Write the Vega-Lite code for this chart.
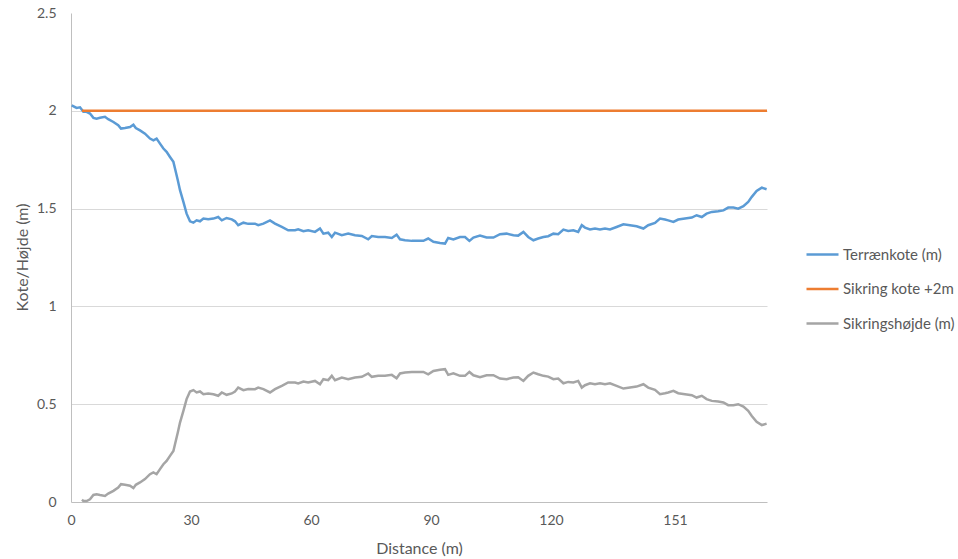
{
  "$schema": "https://vega.github.io/schema/vega-lite/v6.json",
  "width": 696,
  "height": 489,
  "autosize": {"type": "none"},
  "padding": {"left": 71, "top": 13, "right": 191, "bottom": 57},
  "background": "white",
  "config": {
    "view": {"stroke": null},
    "font": "Lato",
    "axis": {"labelFont": "Lato", "titleFont": "Lato", "labelColor": "#595959", "titleColor": "#595959", "labelFontSize": 14, "titleFontSize": 16, "titleFontWeight": "normal", "ticks": false, "tickSize": 0, "domainColor": "#BFBFBF", "gridColor": "#D9D9D9", "labelFlush": false},
    "legend": {"labelFont": "Lato", "labelColor": "#595959", "labelFontSize": 15, "labelLimit": 200}
  },
  "datasets": {
    "terr": [
      {"d":0.17,"v":2.028},{"d":1.4,"v":2.015},{"d":2.25,"v":2.018},{"d":3.1,"v":1.995},{"d":3.9,"v":1.995},{"d":4.75,"v":1.986},{"d":5.6,"v":1.964},{"d":6.4,"v":1.96},{"d":7.25,"v":1.964},{"d":8.5,"v":1.969},{"d":9.3,"v":1.957},{"d":10.6,"v":1.943},{"d":11.8,"v":1.926},{"d":12.5,"v":1.909},{"d":13.5,"v":1.912},{"d":14.75,"v":1.917},{"d":15.6,"v":1.929},{"d":16.2,"v":1.912},{"d":17.25,"v":1.9},{"d":18.5,"v":1.883},{"d":19.75,"v":1.858},{"d":20.6,"v":1.849},{"d":21.4,"v":1.858},{"d":22.25,"v":1.832},{"d":23.1,"v":1.807},{"d":23.9,"v":1.79},{"d":24.75,"v":1.764},{"d":25.6,"v":1.739},{"d":26,"v":1.705},{"d":26.7,"v":1.645},{"d":27.25,"v":1.594},{"d":28.1,"v":1.534},{"d":28.9,"v":1.474},{"d":29.75,"v":1.435},{"d":30.6,"v":1.428},{"d":31.4,"v":1.44},{"d":32.25,"v":1.435},{"d":33.1,"v":1.449},{"d":34.3,"v":1.445},{"d":35.6,"v":1.449},{"d":36.8,"v":1.457},{"d":37.7,"v":1.44},{"d":38.9,"v":1.452},{"d":40.2,"v":1.445},{"d":41,"v":1.435},{"d":41.8,"v":1.415},{"d":43.1,"v":1.428},{"d":44.3,"v":1.422},{"d":46,"v":1.423},{"d":46.8,"v":1.415},{"d":48.1,"v":1.423},{"d":49.75,"v":1.44},{"d":51,"v":1.423},{"d":52.7,"v":1.406},{"d":54.3,"v":1.389},{"d":56,"v":1.389},{"d":56.8,"v":1.394},{"d":58.1,"v":1.384},{"d":59.3,"v":1.389},{"d":61,"v":1.381},{"d":62.25,"v":1.398},{"d":63.1,"v":1.372},{"d":64.3,"v":1.377},{"d":65.2,"v":1.355},{"d":66,"v":1.377},{"d":67.7,"v":1.364},{"d":69.3,"v":1.372},{"d":71,"v":1.364},{"d":72.7,"v":1.36},{"d":74.3,"v":1.343},{"d":75.2,"v":1.36},{"d":76.8,"v":1.355},{"d":78.5,"v":1.355},{"d":80.2,"v":1.35},{"d":81.4,"v":1.367},{"d":82.25,"v":1.343},{"d":83.5,"v":1.338},{"d":85.2,"v":1.335},{"d":86.4,"v":1.335},{"d":88.1,"v":1.335},{"d":89.3,"v":1.347},{"d":90.6,"v":1.33},{"d":92.25,"v":1.324},{"d":93.5,"v":1.321},{"d":94.3,"v":1.35},{"d":95.6,"v":1.342},{"d":97.25,"v":1.355},{"d":98.5,"v":1.355},{"d":99.6,"v":1.335},{"d":100.6,"v":1.352},{"d":102.25,"v":1.362},{"d":103.9,"v":1.352},{"d":105.6,"v":1.352},{"d":107.25,"v":1.369},{"d":108.9,"v":1.372},{"d":110.6,"v":1.364},{"d":111.8,"v":1.362},{"d":113.1,"v":1.381},{"d":114.3,"v":1.355},{"d":115.6,"v":1.338},{"d":116.8,"v":1.347},{"d":118.1,"v":1.355},{"d":119.3,"v":1.359},{"d":120.6,"v":1.372},{"d":121.8,"v":1.369},{"d":123.1,"v":1.393},{"d":124.3,"v":1.386},{"d":125.6,"v":1.389},{"d":126.8,"v":1.381},{"d":127.7,"v":1.415},{"d":128.5,"v":1.403},{"d":129.75,"v":1.393},{"d":131,"v":1.398},{"d":132.25,"v":1.393},{"d":133.5,"v":1.398},{"d":134.75,"v":1.393},{"d":136.4,"v":1.406},{"d":138.1,"v":1.42},{"d":139.75,"v":1.415},{"d":141.4,"v":1.41},{"d":143.1,"v":1.398},{"d":144.3,"v":1.415},{"d":146,"v":1.427},{"d":147.25,"v":1.449},{"d":148.5,"v":1.444},{"d":149.3,"v":1.44},{"d":150.6,"v":1.432},{"d":151.8,"v":1.444},{"d":153.5,"v":1.449},{"d":155.2,"v":1.454},{"d":156.4,"v":1.466},{"d":157.7,"v":1.457},{"d":158.9,"v":1.474},{"d":160.2,"v":1.483},{"d":161.8,"v":1.486},{"d":163.1,"v":1.491},{"d":164.3,"v":1.505},{"d":165.6,"v":1.505},{"d":166.8,"v":1.5},{"d":168.1,"v":1.512},{"d":169.3,"v":1.534},{"d":170.2,"v":1.56},{"d":171.4,"v":1.59},{"d":172.7,"v":1.607},{"d":173.9,"v":1.599}
    ],
    "sik": [
      {"d":2.75,"v":2},{"d":174,"v":2}
    ],
    "hoj": [
      {"d":2.75,"v":0.012},{"d":3.1,"v":0.005},{"d":3.9,"v":0.005},{"d":4.75,"v":0.014},{"d":5.6,"v":0.036},{"d":6.4,"v":0.04},{"d":7.25,"v":0.036},{"d":8.5,"v":0.031},{"d":9.3,"v":0.043},{"d":10.6,"v":0.057},{"d":11.8,"v":0.074},{"d":12.5,"v":0.091},{"d":13.5,"v":0.088},{"d":14.75,"v":0.083},{"d":15.6,"v":0.071},{"d":16.2,"v":0.088},{"d":17.25,"v":0.1},{"d":18.5,"v":0.117},{"d":19.75,"v":0.142},{"d":20.6,"v":0.151},{"d":21.4,"v":0.142},{"d":22.25,"v":0.168},{"d":23.1,"v":0.193},{"d":23.9,"v":0.21},{"d":24.75,"v":0.236},{"d":25.6,"v":0.261},{"d":26,"v":0.295},{"d":26.7,"v":0.355},{"d":27.25,"v":0.406},{"d":28.1,"v":0.466},{"d":28.9,"v":0.526},{"d":29.75,"v":0.565},{"d":30.6,"v":0.572},{"d":31.4,"v":0.56},{"d":32.25,"v":0.565},{"d":33.1,"v":0.551},{"d":34.3,"v":0.555},{"d":35.6,"v":0.551},{"d":36.8,"v":0.543},{"d":37.7,"v":0.56},{"d":38.9,"v":0.548},{"d":40.2,"v":0.555},{"d":41,"v":0.565},{"d":41.8,"v":0.585},{"d":43.1,"v":0.572},{"d":44.3,"v":0.578},{"d":46,"v":0.577},{"d":46.8,"v":0.585},{"d":48.1,"v":0.577},{"d":49.75,"v":0.56},{"d":51,"v":0.577},{"d":52.7,"v":0.594},{"d":54.3,"v":0.611},{"d":56,"v":0.611},{"d":56.8,"v":0.606},{"d":58.1,"v":0.616},{"d":59.3,"v":0.611},{"d":61,"v":0.619},{"d":62.25,"v":0.602},{"d":63.1,"v":0.628},{"d":64.3,"v":0.623},{"d":65.2,"v":0.645},{"d":66,"v":0.623},{"d":67.7,"v":0.636},{"d":69.3,"v":0.628},{"d":71,"v":0.636},{"d":72.7,"v":0.64},{"d":74.3,"v":0.657},{"d":75.2,"v":0.64},{"d":76.8,"v":0.645},{"d":78.5,"v":0.645},{"d":80.2,"v":0.65},{"d":81.4,"v":0.633},{"d":82.25,"v":0.657},{"d":83.5,"v":0.662},{"d":85.2,"v":0.665},{"d":86.4,"v":0.665},{"d":88.1,"v":0.665},{"d":89.3,"v":0.653},{"d":90.6,"v":0.67},{"d":92.25,"v":0.676},{"d":93.5,"v":0.679},{"d":94.3,"v":0.65},{"d":95.6,"v":0.658},{"d":97.25,"v":0.645},{"d":98.5,"v":0.645},{"d":99.6,"v":0.665},{"d":100.6,"v":0.648},{"d":102.25,"v":0.638},{"d":103.9,"v":0.648},{"d":105.6,"v":0.648},{"d":107.25,"v":0.631},{"d":108.9,"v":0.628},{"d":110.6,"v":0.636},{"d":111.8,"v":0.638},{"d":113.1,"v":0.619},{"d":114.3,"v":0.645},{"d":115.6,"v":0.662},{"d":116.8,"v":0.653},{"d":118.1,"v":0.645},{"d":119.3,"v":0.641},{"d":120.6,"v":0.628},{"d":121.8,"v":0.631},{"d":123.1,"v":0.607},{"d":124.3,"v":0.614},{"d":125.6,"v":0.611},{"d":126.8,"v":0.619},{"d":127.7,"v":0.585},{"d":128.5,"v":0.597},{"d":129.75,"v":0.607},{"d":131,"v":0.602},{"d":132.25,"v":0.607},{"d":133.5,"v":0.602},{"d":134.75,"v":0.607},{"d":136.4,"v":0.594},{"d":138.1,"v":0.58},{"d":139.75,"v":0.585},{"d":141.4,"v":0.59},{"d":143.1,"v":0.602},{"d":144.3,"v":0.585},{"d":146,"v":0.573},{"d":147.25,"v":0.551},{"d":148.5,"v":0.556},{"d":149.3,"v":0.56},{"d":150.6,"v":0.568},{"d":151.8,"v":0.556},{"d":153.5,"v":0.551},{"d":155.2,"v":0.546},{"d":156.4,"v":0.534},{"d":157.7,"v":0.543},{"d":158.9,"v":0.526},{"d":160.2,"v":0.517},{"d":161.8,"v":0.514},{"d":163.1,"v":0.509},{"d":164.3,"v":0.495},{"d":165.6,"v":0.495},{"d":166.8,"v":0.5},{"d":168.1,"v":0.488},{"d":169.3,"v":0.466},{"d":170.2,"v":0.44},{"d":171.4,"v":0.41},{"d":172.7,"v":0.393},{"d":173.9,"v":0.401}
    ]
  },
  "encoding": {
    "x": {"field": "d", "type": "quantitative", "scale": {"domain": [0, 174], "nice": false, "zero": false},
      "axis": {"title": "Distance (m)", "values": [0, 30, 60, 90, 120, 151], "grid": false, "labelPadding": 11, "titleX": 348, "titleY": 46, "titleBaseline": "middle", "titleAlign": "center"}},
    "y": {"field": "v", "type": "quantitative", "scale": {"domain": [0, 2.5], "nice": false},
      "axis": {"title": "Kote/Højde (m)", "values": [0, 0.5, 1, 1.5, 2, 2.5], "labelPadding": 15, "labelExpr": "'' + datum.value",
        "gridOpacity": {"condition": {"test": "datum.value == 2.5 || datum.value == 0", "value": 0}, "value": 1},
        "titleX": -49, "titleY": 244, "titleAngle": -90, "titleBaseline": "middle", "titleAlign": "center"}},
    "color": {"field": "s", "type": "nominal",
      "scale": {"domain": ["Terrænkote (m)", "Sikring kote +2m", "Sikringshøjde (m)"], "range": ["#5B9BD5", "#ED7D31", "#A5A5A5"]},
      "legend": {"title": null, "orient": "none", "legendX": 734, "legendY": 224, "symbolType": "stroke", "symbolSize": 1024, "symbolStrokeWidth": 2.5, "labelOffset": 3, "rowPadding": 8.5, "padding": 0}}
  },
  "layer": [
    {"data": {"name": "terr"}, "transform": [{"calculate": "'Terrænkote (m)'", "as": "s"}], "mark": {"type": "line", "strokeWidth": 2.5}},
    {"data": {"name": "sik"}, "transform": [{"calculate": "'Sikring kote +2m'", "as": "s"}], "mark": {"type": "line", "strokeWidth": 2.5}},
    {"data": {"name": "hoj"}, "transform": [{"calculate": "'Sikringshøjde (m)'", "as": "s"}], "mark": {"type": "line", "strokeWidth": 2.5}}
  ]
}
